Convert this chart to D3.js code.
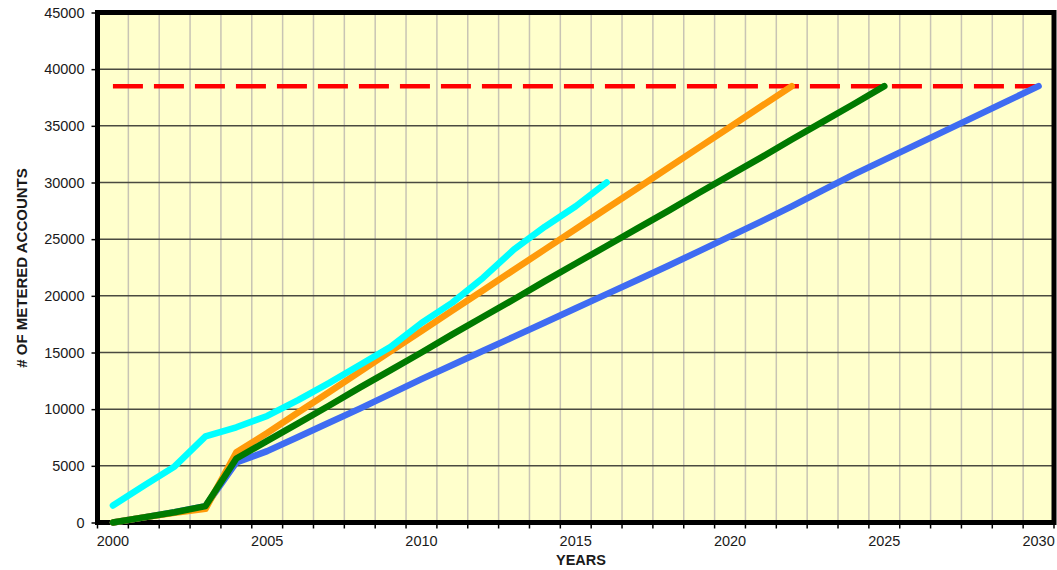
<!DOCTYPE html>
<html>
<head>
<meta charset="utf-8">
<script src="https://cdn.jsdelivr.net/npm/d3@7"></script>
<style>
  html, body { margin: 0; padding: 0; background: #ffffff; }
  svg { display: block; }
  text { font-family: "Liberation Sans", Arial, sans-serif; fill: #1a1a1a; }
</style>
</head>
<body>
<svg id="chart" width="1057" height="570"></svg>
<script>
// ---- Data ----
const years = d3.range(2000, 2031);
const xTickLabels = [2000, 2005, 2010, 2015, 2020, 2025, 2030];
const yTicks = [0, 5000, 10000, 15000, 20000, 25000, 30000, 35000, 40000, 45000];

const targetValue = 38500;
const targetYears = [2000, 2030];

const blueYears = d3.range(2000, 2031);
const blueValues = [0, 450, 900, 1450, 5300, 6300, 7550, 8800, 10050, 11350, 12650, 13900, 15150, 16400, 17650, 18900, 20150, 21400, 22650, 23950, 25250, 26550, 27900, 29300, 30700, 32000, 33300, 34600, 35900, 37200, 38500];

const orangeYears = d3.range(2000, 2023);
const orangeValues = [0, 450, 850, 1200, 6200, 7900, 9700, 11500, 13300, 15100, 16900, 18700, 20500, 22300, 24100, 25900, 27700, 29500, 31300, 33100, 34900, 36700, 38500];

const greenYears = d3.range(2000, 2026);
const greenValues = [0, 450, 900, 1450, 5650, 7200, 8750, 10300, 11900, 13450, 15000, 16600, 18150, 19700, 21300, 22850, 24400, 25950, 27500, 29100, 30650, 32200, 33800, 35350, 36900, 38500];

const cyanYears = d3.range(2000, 2017);
const cyanValues = [1500, 3250, 4950, 7600, 8400, 9400, 10800, 12300, 13900, 15500, 17600, 19400, 21600, 24100, 26100, 27900, 30000];

// ---- Layout ----
const svg = d3.select("#chart");
const pLeft = 97.5, pRight = 1054, pTop = 12.5, pBottom = 522.5;

const x = d3.scaleBand().domain(years).range([pLeft, pRight]).padding(0);
const y = d3.scaleLinear().domain([0, 45000]).range([pBottom, pTop]);
const cx = d => x(d) + x.bandwidth() / 2;

// background
svg.append("rect").attr("x", pLeft).attr("y", pTop)
  .attr("width", pRight - pLeft).attr("height", pBottom - pTop)
  .attr("fill", "#FFFFCC");

// vertical gridlines at category boundaries
svg.append("g").selectAll("line").data(years.slice(1)).join("line")
  .attr("x1", d => x(d)).attr("x2", d => x(d))
  .attr("y1", pTop).attr("y2", pBottom)
  .attr("stroke", "#c8c4b4").attr("stroke-width", 1.5);

// horizontal gridlines
svg.append("g").selectAll("line").data(yTicks.slice(1, -1)).join("line")
  .attr("x1", pLeft).attr("x2", pRight)
  .attr("y1", d => y(d)).attr("y2", d => y(d))
  .attr("stroke", "#4a4a40").attr("stroke-width", 1.5);

// Y axis
const yAxis = d3.axisLeft(y).tickValues(yTicks).tickSize(6).tickPadding(7).tickFormat(d3.format("d"));
const gy = svg.append("g").attr("transform", `translate(${pLeft},0)`).call(yAxis);
gy.select(".domain").remove();
gy.selectAll(".tick line").attr("stroke", "#000").attr("stroke-width", 1.5);
gy.selectAll(".tick text").attr("font-size", 14.5).attr("fill", "#1a1a1a")
  .style("font-family", "'Liberation Sans', Arial, sans-serif");

// X axis: ticks at category boundaries, labels at band centres
const boundaries = years.map(d => x(d)).concat([pRight]);
svg.append("g").selectAll("line").data(boundaries).join("line")
  .attr("x1", d => d).attr("x2", d => d)
  .attr("y1", pBottom).attr("y2", pBottom + 6)
  .attr("stroke", "#000").attr("stroke-width", 1.5);

svg.append("g").selectAll("text").data(xTickLabels).join("text")
  .attr("x", d => cx(d)).attr("y", 546)
  .attr("text-anchor", "middle").attr("font-size", 14.5)
  .text(d => d);

// border
svg.append("rect").attr("x", pLeft).attr("y", pTop)
  .attr("width", pRight - pLeft).attr("height", pBottom - pTop)
  .attr("fill", "none").attr("stroke", "#000").attr("stroke-width", 5);

// lines
const line = d3.line().x(d => cx(d[0])).y(d => y(d[1]));
const zip = (a, b) => a.map((v, i) => [v, b[i]]);

svg.append("path").datum(zip(targetYears, [targetValue, targetValue]))
  .attr("d", line).attr("fill", "none")
  .attr("stroke", "#FF0000").attr("stroke-width", 4.5)
  .attr("stroke-dasharray", "30,11");

const series = [
  { yrs: blueYears, vals: blueValues, color: "#3F6CF2" },
  { yrs: orangeYears, vals: orangeValues, color: "#FF9A0A" },
  { yrs: greenYears, vals: greenValues, color: "#007A00" },
  { yrs: cyanYears, vals: cyanValues, color: "#00FFFF" }
];
series.forEach(s => {
  svg.append("path").datum(zip(s.yrs, s.vals))
    .attr("d", line).attr("fill", "none")
    .attr("stroke", s.color).attr("stroke-width", 6.5)
    .attr("stroke-linejoin", "round").attr("stroke-linecap", "round");
});

// axis titles
svg.append("text").attr("x", 581).attr("y", 565)
  .attr("text-anchor", "middle").attr("font-size", 14.5).attr("font-weight", "bold")
  .text("YEARS");
svg.append("text")
  .attr("transform", `translate(27,268) rotate(-90)`)
  .attr("text-anchor", "middle").attr("font-size", 15).attr("font-weight", "bold")
  .text("# OF METERED ACCOUNTS");
</script>
</body>
</html>
